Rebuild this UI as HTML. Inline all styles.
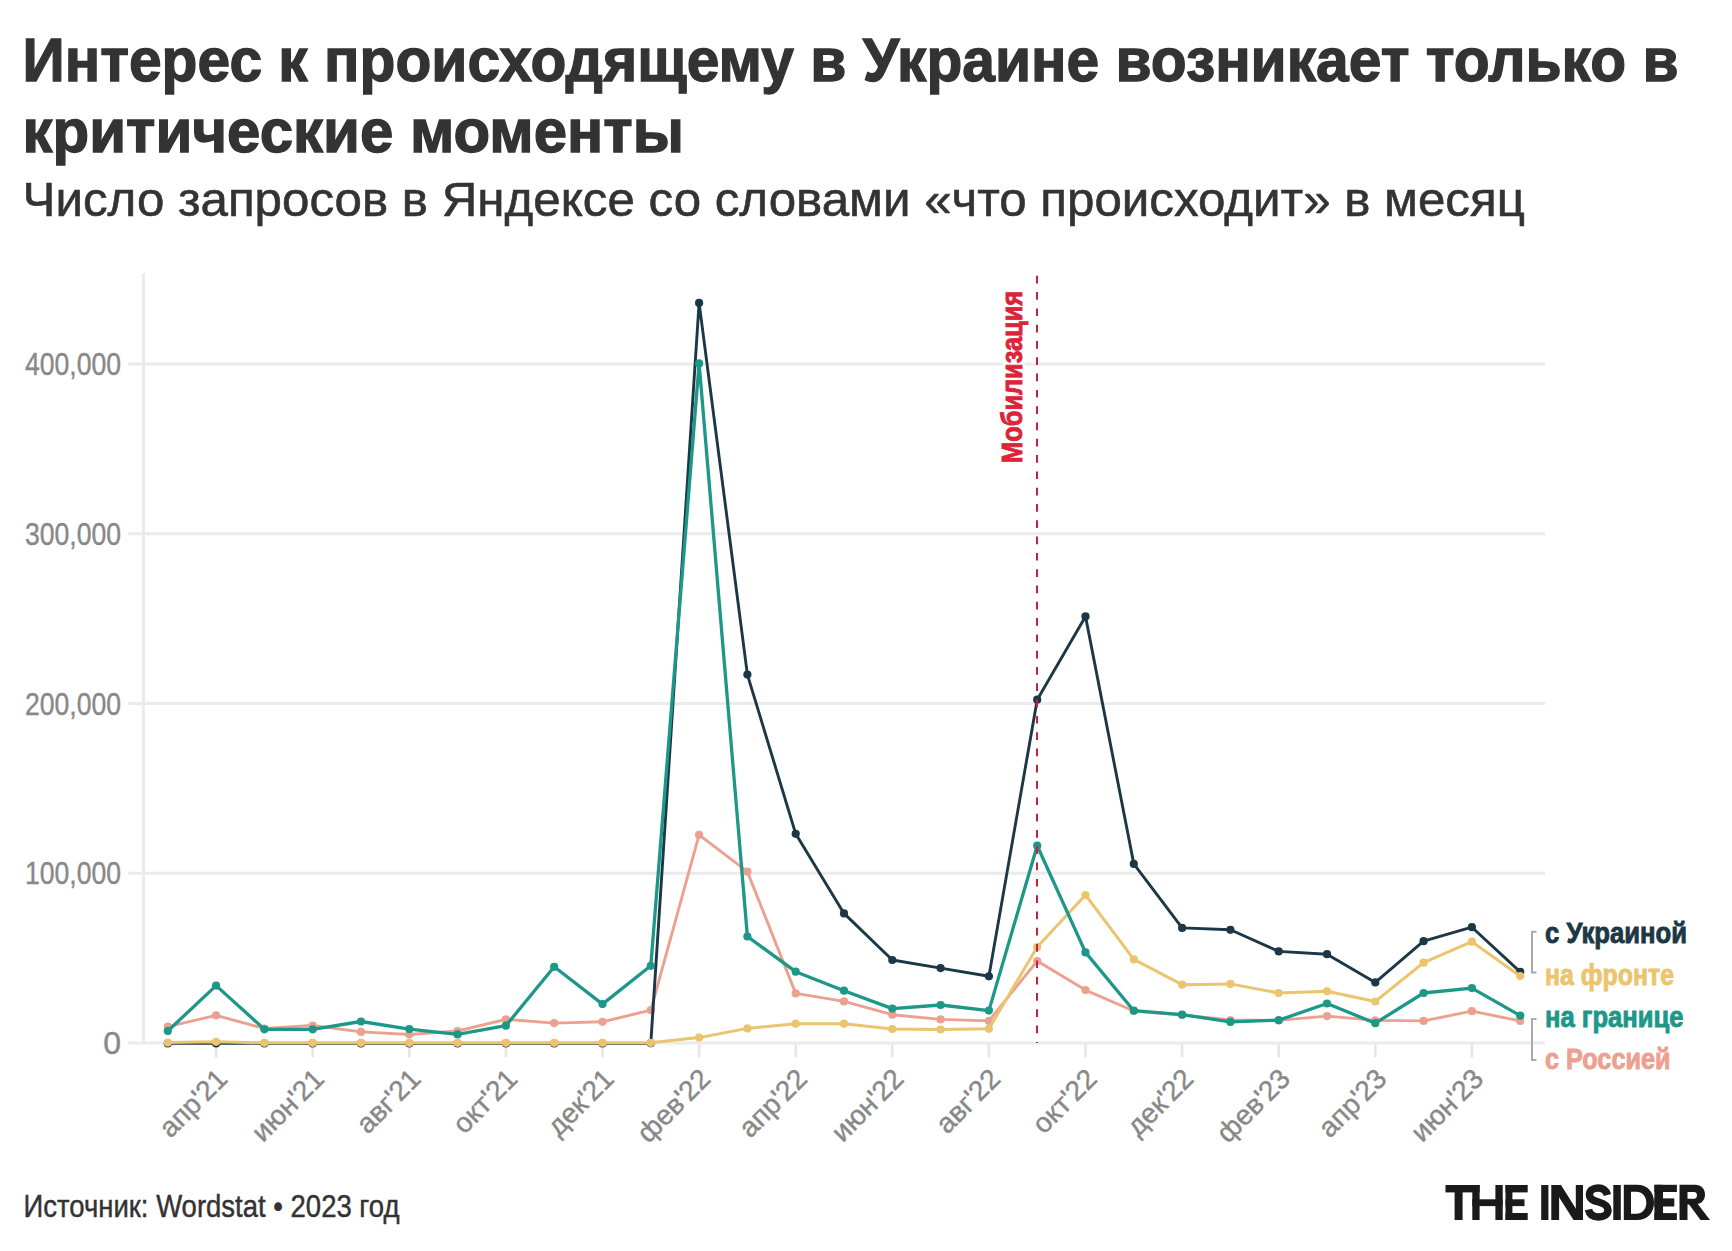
<!DOCTYPE html>
<html><head><meta charset="utf-8"><style>html,body{margin:0;padding:0;background:#fff;width:1732px;height:1251px;overflow:hidden}</style></head><body>
<svg width="1732" height="1251" viewBox="0 0 1732 1251" style="display:block;font-family:'Liberation Sans', sans-serif">
<rect width="1732" height="1251" fill="#fff"/>
<text x="22.5" y="80.9" font-size="61" font-weight="700" fill="#333" stroke="#333" stroke-width="1.3" textLength="1656" lengthAdjust="spacingAndGlyphs">Интерес к происходящему в Украине возникает только в</text>
<text x="22.5" y="152.4" font-size="61" font-weight="700" fill="#333" stroke="#333" stroke-width="1.3" textLength="661.4" lengthAdjust="spacingAndGlyphs">критические моменты</text>
<text x="22.6" y="215.9" font-size="49" fill="#333" stroke="#333" stroke-width="0.6" textLength="1502.3" lengthAdjust="spacingAndGlyphs">Число запросов в Яндексе со словами «что происходит» в месяц</text>
<line x1="128" y1="1043" x2="1545" y2="1043" stroke="#ebebeb" stroke-width="3"/>
<text x="121" y="1054" font-size="32" fill="#888" stroke="#888" stroke-width="0.4" text-anchor="end">0</text>
<line x1="128" y1="873.25" x2="1545" y2="873.25" stroke="#ebebeb" stroke-width="3"/>
<text x="121" y="884.25" font-size="32" fill="#888" stroke="#888" stroke-width="0.4" text-anchor="end" textLength="96.1" lengthAdjust="spacingAndGlyphs">100,000</text>
<line x1="128" y1="703.5" x2="1545" y2="703.5" stroke="#ebebeb" stroke-width="3"/>
<text x="121" y="714.5" font-size="32" fill="#888" stroke="#888" stroke-width="0.4" text-anchor="end" textLength="96.1" lengthAdjust="spacingAndGlyphs">200,000</text>
<line x1="128" y1="533.75" x2="1545" y2="533.75" stroke="#ebebeb" stroke-width="3"/>
<text x="121" y="544.75" font-size="32" fill="#888" stroke="#888" stroke-width="0.4" text-anchor="end" textLength="96.1" lengthAdjust="spacingAndGlyphs">300,000</text>
<line x1="128" y1="364" x2="1545" y2="364" stroke="#ebebeb" stroke-width="3"/>
<text x="121" y="375" font-size="32" fill="#888" stroke="#888" stroke-width="0.4" text-anchor="end" textLength="96.1" lengthAdjust="spacingAndGlyphs">400,000</text>
<line x1="143.5" y1="273" x2="143.5" y2="1043" stroke="#ebebeb" stroke-width="3"/>
<line x1="216.1" y1="1044.5" x2="216.1" y2="1057.5" stroke="#e6e6e8" stroke-width="2.6"/>
<text transform="translate(229.1,1080.5) rotate(-45)" font-size="28" fill="#888" stroke="#888" stroke-width="0.4" text-anchor="end">апр'21</text>
<line x1="312.7" y1="1044.5" x2="312.7" y2="1057.5" stroke="#e6e6e8" stroke-width="2.6"/>
<text transform="translate(325.7,1080.5) rotate(-45)" font-size="28" fill="#888" stroke="#888" stroke-width="0.4" text-anchor="end">июн'21</text>
<line x1="409.3" y1="1044.5" x2="409.3" y2="1057.5" stroke="#e6e6e8" stroke-width="2.6"/>
<text transform="translate(422.3,1080.5) rotate(-45)" font-size="28" fill="#888" stroke="#888" stroke-width="0.4" text-anchor="end">авг'21</text>
<line x1="505.9" y1="1044.5" x2="505.9" y2="1057.5" stroke="#e6e6e8" stroke-width="2.6"/>
<text transform="translate(518.9,1080.5) rotate(-45)" font-size="28" fill="#888" stroke="#888" stroke-width="0.4" text-anchor="end">окт'21</text>
<line x1="602.5" y1="1044.5" x2="602.5" y2="1057.5" stroke="#e6e6e8" stroke-width="2.6"/>
<text transform="translate(615.5,1080.5) rotate(-45)" font-size="28" fill="#888" stroke="#888" stroke-width="0.4" text-anchor="end">дек'21</text>
<line x1="699.1" y1="1044.5" x2="699.1" y2="1057.5" stroke="#e6e6e8" stroke-width="2.6"/>
<text transform="translate(712.1,1080.5) rotate(-45)" font-size="28" fill="#888" stroke="#888" stroke-width="0.4" text-anchor="end">фев'22</text>
<line x1="795.7" y1="1044.5" x2="795.7" y2="1057.5" stroke="#e6e6e8" stroke-width="2.6"/>
<text transform="translate(808.7,1080.5) rotate(-45)" font-size="28" fill="#888" stroke="#888" stroke-width="0.4" text-anchor="end">апр'22</text>
<line x1="892.3" y1="1044.5" x2="892.3" y2="1057.5" stroke="#e6e6e8" stroke-width="2.6"/>
<text transform="translate(905.3,1080.5) rotate(-45)" font-size="28" fill="#888" stroke="#888" stroke-width="0.4" text-anchor="end">июн'22</text>
<line x1="988.9" y1="1044.5" x2="988.9" y2="1057.5" stroke="#e6e6e8" stroke-width="2.6"/>
<text transform="translate(1001.9,1080.5) rotate(-45)" font-size="28" fill="#888" stroke="#888" stroke-width="0.4" text-anchor="end">авг'22</text>
<line x1="1085.5" y1="1044.5" x2="1085.5" y2="1057.5" stroke="#e6e6e8" stroke-width="2.6"/>
<text transform="translate(1098.5,1080.5) rotate(-45)" font-size="28" fill="#888" stroke="#888" stroke-width="0.4" text-anchor="end">окт'22</text>
<line x1="1182.1" y1="1044.5" x2="1182.1" y2="1057.5" stroke="#e6e6e8" stroke-width="2.6"/>
<text transform="translate(1195.1,1080.5) rotate(-45)" font-size="28" fill="#888" stroke="#888" stroke-width="0.4" text-anchor="end">дек'22</text>
<line x1="1278.7" y1="1044.5" x2="1278.7" y2="1057.5" stroke="#e6e6e8" stroke-width="2.6"/>
<text transform="translate(1291.7,1080.5) rotate(-45)" font-size="28" fill="#888" stroke="#888" stroke-width="0.4" text-anchor="end">фев'23</text>
<line x1="1375.3" y1="1044.5" x2="1375.3" y2="1057.5" stroke="#e6e6e8" stroke-width="2.6"/>
<text transform="translate(1388.3,1080.5) rotate(-45)" font-size="28" fill="#888" stroke="#888" stroke-width="0.4" text-anchor="end">апр'23</text>
<line x1="1471.9" y1="1044.5" x2="1471.9" y2="1057.5" stroke="#e6e6e8" stroke-width="2.6"/>
<text transform="translate(1484.9,1080.5) rotate(-45)" font-size="28" fill="#888" stroke="#888" stroke-width="0.4" text-anchor="end">июн'23</text>
<polyline points="167.8,1026.7 216.1,1015.4 264.4,1028.5 312.7,1025.5 361.0,1031.9 409.3,1034.5 457.6,1031.0 505.9,1019.3 554.2,1023.1 602.5,1021.8 650.8,1010.2 699.1,834.9 747.4,871.7 795.7,993.4 844.0,1001.4 892.3,1014.7 940.6,1019.4 988.9,1020.9 1037.2,961.0 1085.5,990.1 1133.8,1011.0 1182.1,1015.0 1230.4,1020.0 1278.7,1020.4 1327.0,1016.1 1375.3,1020.4 1423.6,1020.9 1471.9,1011.2 1520.2,1020.9" fill="none" stroke="#eca190" stroke-width="2.9" stroke-linejoin="round" stroke-linecap="round"/>
<g fill="#eca190"><circle cx="167.8" cy="1026.7" r="4.1"/><circle cx="216.1" cy="1015.4" r="4.1"/><circle cx="264.4" cy="1028.5" r="4.1"/><circle cx="312.7" cy="1025.5" r="4.1"/><circle cx="361.0" cy="1031.9" r="4.1"/><circle cx="409.3" cy="1034.5" r="4.1"/><circle cx="457.6" cy="1031.0" r="4.1"/><circle cx="505.9" cy="1019.3" r="4.1"/><circle cx="554.2" cy="1023.1" r="4.1"/><circle cx="602.5" cy="1021.8" r="4.1"/><circle cx="650.8" cy="1010.2" r="4.1"/><circle cx="699.1" cy="834.9" r="4.1"/><circle cx="747.4" cy="871.7" r="4.1"/><circle cx="795.7" cy="993.4" r="4.1"/><circle cx="844.0" cy="1001.4" r="4.1"/><circle cx="892.3" cy="1014.7" r="4.1"/><circle cx="940.6" cy="1019.4" r="4.1"/><circle cx="988.9" cy="1020.9" r="4.1"/><circle cx="1037.2" cy="961.0" r="4.1"/><circle cx="1085.5" cy="990.1" r="4.1"/><circle cx="1133.8" cy="1011.0" r="4.1"/><circle cx="1182.1" cy="1015.0" r="4.1"/><circle cx="1230.4" cy="1020.0" r="4.1"/><circle cx="1278.7" cy="1020.4" r="4.1"/><circle cx="1327.0" cy="1016.1" r="4.1"/><circle cx="1375.3" cy="1020.4" r="4.1"/><circle cx="1423.6" cy="1020.9" r="4.1"/><circle cx="1471.9" cy="1011.2" r="4.1"/><circle cx="1520.2" cy="1020.9" r="4.1"/></g>

<polyline points="167.8,1043.4 216.1,1043.4 264.4,1043.4 312.7,1043.4 361.0,1043.4 409.3,1043.4 457.6,1043.4 505.9,1043.4 554.2,1043.4 602.5,1043.4 650.8,1043.2 699.1,302.9 747.4,674.6 795.7,833.8 844.0,913.4 892.3,960.0 940.6,968.1 988.9,976.3 1037.2,699.7 1085.5,616.4 1133.8,863.9 1182.1,927.9 1230.4,929.8 1278.7,951.4 1327.0,954.2 1375.3,982.4 1423.6,941.2 1471.9,927.2 1520.2,971.9" fill="none" stroke="#1c3745" stroke-width="2.9" stroke-linejoin="round" stroke-linecap="round"/>
<g fill="#1c3745"><circle cx="167.8" cy="1043.4" r="4.1"/><circle cx="216.1" cy="1043.4" r="4.1"/><circle cx="264.4" cy="1043.4" r="4.1"/><circle cx="312.7" cy="1043.4" r="4.1"/><circle cx="361.0" cy="1043.4" r="4.1"/><circle cx="409.3" cy="1043.4" r="4.1"/><circle cx="457.6" cy="1043.4" r="4.1"/><circle cx="505.9" cy="1043.4" r="4.1"/><circle cx="554.2" cy="1043.4" r="4.1"/><circle cx="602.5" cy="1043.4" r="4.1"/><circle cx="650.8" cy="1043.2" r="4.1"/><circle cx="699.1" cy="302.9" r="4.1"/><circle cx="747.4" cy="674.6" r="4.1"/><circle cx="795.7" cy="833.8" r="4.1"/><circle cx="844.0" cy="913.4" r="4.1"/><circle cx="892.3" cy="960.0" r="4.1"/><circle cx="940.6" cy="968.1" r="4.1"/><circle cx="988.9" cy="976.3" r="4.1"/><circle cx="1037.2" cy="699.7" r="4.1"/><circle cx="1085.5" cy="616.4" r="4.1"/><circle cx="1133.8" cy="863.9" r="4.1"/><circle cx="1182.1" cy="927.9" r="4.1"/><circle cx="1230.4" cy="929.8" r="4.1"/><circle cx="1278.7" cy="951.4" r="4.1"/><circle cx="1327.0" cy="954.2" r="4.1"/><circle cx="1375.3" cy="982.4" r="4.1"/><circle cx="1423.6" cy="941.2" r="4.1"/><circle cx="1471.9" cy="927.2" r="4.1"/><circle cx="1520.2" cy="971.9" r="4.1"/></g>

<polyline points="167.8,1042.6 216.1,1041.8 264.4,1042.8 312.7,1042.8 361.0,1042.8 409.3,1042.8 457.6,1042.8 505.9,1042.8 554.2,1042.8 602.5,1042.8 650.8,1042.8 699.1,1037.6 747.4,1028.4 795.7,1023.7 844.0,1023.7 892.3,1029.1 940.6,1029.5 988.9,1028.8 1037.2,947.0 1085.5,895.0 1133.8,959.4 1182.1,984.7 1230.4,983.9 1278.7,993.0 1327.0,991.3 1375.3,1001.5 1423.6,962.7 1471.9,941.7 1520.2,976.0" fill="none" stroke="#ebc46e" stroke-width="3.0" stroke-linejoin="round" stroke-linecap="round"/>
<g fill="#ebc46e"><circle cx="167.8" cy="1042.6" r="4.1"/><circle cx="216.1" cy="1041.8" r="4.1"/><circle cx="264.4" cy="1042.8" r="4.1"/><circle cx="312.7" cy="1042.8" r="4.1"/><circle cx="361.0" cy="1042.8" r="4.1"/><circle cx="409.3" cy="1042.8" r="4.1"/><circle cx="457.6" cy="1042.8" r="4.1"/><circle cx="505.9" cy="1042.8" r="4.1"/><circle cx="554.2" cy="1042.8" r="4.1"/><circle cx="602.5" cy="1042.8" r="4.1"/><circle cx="650.8" cy="1042.8" r="4.1"/><circle cx="699.1" cy="1037.6" r="4.1"/><circle cx="747.4" cy="1028.4" r="4.1"/><circle cx="795.7" cy="1023.7" r="4.1"/><circle cx="844.0" cy="1023.7" r="4.1"/><circle cx="892.3" cy="1029.1" r="4.1"/><circle cx="940.6" cy="1029.5" r="4.1"/><circle cx="988.9" cy="1028.8" r="4.1"/><circle cx="1037.2" cy="947.0" r="4.1"/><circle cx="1085.5" cy="895.0" r="4.1"/><circle cx="1133.8" cy="959.4" r="4.1"/><circle cx="1182.1" cy="984.7" r="4.1"/><circle cx="1230.4" cy="983.9" r="4.1"/><circle cx="1278.7" cy="993.0" r="4.1"/><circle cx="1327.0" cy="991.3" r="4.1"/><circle cx="1375.3" cy="1001.5" r="4.1"/><circle cx="1423.6" cy="962.7" r="4.1"/><circle cx="1471.9" cy="941.7" r="4.1"/><circle cx="1520.2" cy="976.0" r="4.1"/></g>

<polyline points="167.8,1031.0 216.1,985.6 264.4,1029.3 312.7,1029.3 361.0,1021.5 409.3,1029.1 457.6,1034.4 505.9,1025.7 554.2,966.8 602.5,1004.1 650.8,965.8 699.1,363.4 747.4,936.5 795.7,971.7 844.0,990.7 892.3,1008.6 940.6,1005.0 988.9,1010.6 1037.2,845.7 1085.5,952.4 1133.8,1010.7 1182.1,1014.6 1230.4,1021.9 1278.7,1020.2 1327.0,1003.5 1375.3,1023.2 1423.6,993.0 1471.9,988.1 1520.2,1015.6" fill="none" stroke="#1d9787" stroke-width="3.3" stroke-linejoin="round" stroke-linecap="round"/>
<g fill="#1d9787"><circle cx="167.8" cy="1031.0" r="4.1"/><circle cx="216.1" cy="985.6" r="4.1"/><circle cx="264.4" cy="1029.3" r="4.1"/><circle cx="312.7" cy="1029.3" r="4.1"/><circle cx="361.0" cy="1021.5" r="4.1"/><circle cx="409.3" cy="1029.1" r="4.1"/><circle cx="457.6" cy="1034.4" r="4.1"/><circle cx="505.9" cy="1025.7" r="4.1"/><circle cx="554.2" cy="966.8" r="4.1"/><circle cx="602.5" cy="1004.1" r="4.1"/><circle cx="650.8" cy="965.8" r="4.1"/><circle cx="699.1" cy="363.4" r="4.1"/><circle cx="747.4" cy="936.5" r="4.1"/><circle cx="795.7" cy="971.7" r="4.1"/><circle cx="844.0" cy="990.7" r="4.1"/><circle cx="892.3" cy="1008.6" r="4.1"/><circle cx="940.6" cy="1005.0" r="4.1"/><circle cx="988.9" cy="1010.6" r="4.1"/><circle cx="1037.2" cy="845.7" r="4.1"/><circle cx="1085.5" cy="952.4" r="4.1"/><circle cx="1133.8" cy="1010.7" r="4.1"/><circle cx="1182.1" cy="1014.6" r="4.1"/><circle cx="1230.4" cy="1021.9" r="4.1"/><circle cx="1278.7" cy="1020.2" r="4.1"/><circle cx="1327.0" cy="1003.5" r="4.1"/><circle cx="1375.3" cy="1023.2" r="4.1"/><circle cx="1423.6" cy="993.0" r="4.1"/><circle cx="1471.9" cy="988.1" r="4.1"/><circle cx="1520.2" cy="1015.6" r="4.1"/></g>

<line x1="1037" y1="275.8" x2="1037" y2="1043" stroke="#c91f3c" stroke-width="2" stroke-dasharray="7.7 8.6"/>
<text transform="translate(1021.9,462.9) rotate(-90)" font-size="30" font-weight="700" fill="#fff" stroke="#fff" stroke-width="6" stroke-linejoin="round" textLength="172" lengthAdjust="spacingAndGlyphs">Мобилизация</text>
<text transform="translate(1021.9,462.9) rotate(-90)" font-size="30" font-weight="700" fill="#dc2338" stroke="#dc2338" stroke-width="0.9" textLength="172" lengthAdjust="spacingAndGlyphs">Мобилизация</text>
<path d="M1536.5,931.7 H1532 V972.5 H1536.5" fill="none" stroke="#aaa" stroke-width="2"/>
<path d="M1536.5,1019 H1532 V1060 H1536.5" fill="none" stroke="#aaa" stroke-width="2"/>
<text x="1545" y="942.6" font-size="29.5" font-weight="700" fill="#1c3745" stroke="#1c3745" stroke-width="0.9" textLength="142" lengthAdjust="spacingAndGlyphs">с Украиной</text>
<text x="1545" y="984.7" font-size="29.5" font-weight="700" fill="#ebc46e" stroke="#ebc46e" stroke-width="0.9" textLength="129" lengthAdjust="spacingAndGlyphs">на фронте</text>
<text x="1545" y="1026.8" font-size="29.5" font-weight="700" fill="#1d9787" stroke="#1d9787" stroke-width="0.9" textLength="138.5" lengthAdjust="spacingAndGlyphs">на границе</text>
<text x="1545" y="1069" font-size="29.5" font-weight="700" fill="#eca190" stroke="#eca190" stroke-width="0.9" textLength="125.5" lengthAdjust="spacingAndGlyphs">с Россией</text>
<text x="23.5" y="1216.6" font-size="31" fill="#333" stroke="#333" stroke-width="0.45" textLength="376" lengthAdjust="spacingAndGlyphs">Источник: Wordstat • 2023 год</text>
<g fill="#1a1a1a">
<rect x="1445.5" y="1185" width="34.1" height="7.4"/><rect x="1454.6" y="1185" width="8" height="35"/>
<rect x="1472.3" y="1185" width="7.3" height="35"/><rect x="1472.3" y="1199.3" width="30.4" height="6.8"/><rect x="1495.4" y="1185" width="7.3" height="35"/>
<rect x="1505.5" y="1185" width="6.9" height="35"/><rect x="1505.5" y="1185" width="22.2" height="7.4"/><rect x="1505.5" y="1199.3" width="19" height="6.8"/><rect x="1505.5" y="1213" width="22.2" height="7"/>
<rect x="1541.2" y="1185" width="7.2" height="35"/>
<rect x="1551.3" y="1185" width="7.8" height="35"/><rect x="1575.8" y="1185" width="7.2" height="35"/><polygon points="1551.3,1185 1561,1185 1583,1220 1573.5,1220"/>
<rect x="1613.3" y="1185" width="7.5" height="35"/>
<path fill-rule="evenodd" d="M1623.8,1184.8 H1637 C1647.5,1184.8 1654,1192 1654,1202.4 C1654,1212.8 1647.5,1220 1637,1220 H1623.8 Z M1631,1191.7 V1213.7 H1636 C1642.5,1213.7 1646.3,1209 1646.3,1202.7 C1646.3,1196.4 1642.5,1191.7 1636,1191.7 Z"/>
<rect x="1654.4" y="1184.8" width="8.6" height="35.2"/><rect x="1654.4" y="1184.8" width="22.5" height="7.2"/><rect x="1654.4" y="1198.4" width="19.9" height="8.1"/><rect x="1654.4" y="1213.1" width="22.5" height="6.9"/>
<path fill-rule="evenodd" d="M1679.5,1184.8 H1695 C1701.5,1184.8 1705,1189 1705,1194.6 C1705,1200.2 1701.5,1204.4 1695,1204.4 H1687.5 V1220 H1679.5 Z M1687.5,1192 H1694 C1696,1192 1697,1193.4 1697,1195.3 C1697,1197.2 1696,1198.7 1694,1198.7 H1687.5 Z"/>
<polygon points="1688,1203 1697,1203 1710,1220 1700.5,1220"/>
</g>
<path d="M1607.5,1195 C1606,1190 1602,1188 1598,1188 C1593,1188 1589.5,1190.5 1589.5,1194.5 C1589.5,1199 1593,1200.5 1598.5,1202 C1604,1203.5 1608,1205.5 1608,1210 C1608,1214.5 1604,1217 1598.5,1217 C1593,1217 1589.5,1214.5 1588.5,1209.5" fill="none" stroke="#1a1a1a" stroke-width="7.5"/>
</svg>
</body></html>
